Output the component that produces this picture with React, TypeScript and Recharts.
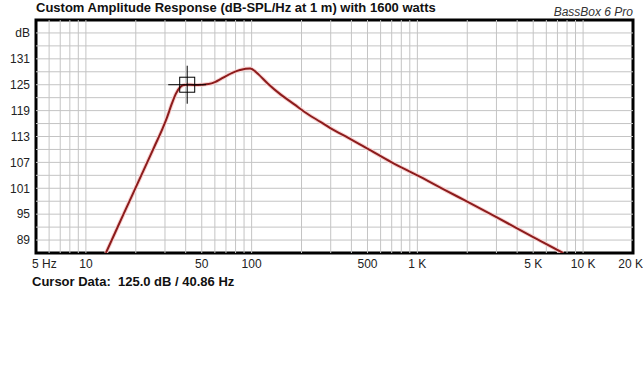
import React from "react";
import {
  LineChart,
  Line,
  XAxis,
  YAxis,
  ReferenceLine,
  ReferenceArea,
  ReferenceDot,
} from "recharts";

// response curve
const freqs = [
  13.2, 15, 17, 20, 23, 26, 29, 31, 33, 35, 37, 39, 40.86, 45, 50, 55, 60, 65,
  70, 77, 85, 92, 98, 105, 110, 125, 150, 180, 220, 260, 300, 350, 400, 500,
  700, 1000, 1500, 2000, 3000, 5000, 7570,
];
const spl = [
  86, 90.7, 95.3, 101.2, 106.3, 110.8, 114.8, 117.6, 120.6, 123.0, 124.4,
  124.95, 125.0, 124.95, 125.0, 125.15, 125.6, 126.3, 127.0, 127.8, 128.4,
  128.7, 128.75, 128.1, 127.4, 125.3, 122.7, 120.5, 118.1, 116.4, 114.9, 113.5,
  112.3, 110.2, 107.0, 104.0, 100.4, 97.9, 94.3, 89.7, 86,
];

const xTicks = [5, 10, 50, 100, 500, 1000, 5000, 10000, 20000];
const xTickLabels = ["5 Hz", "10", "50", "100", "500", "1 K", "5 K", "10 K", "20 K"];
const yTicks = [89, 95, 101, 107, 113, 119, 125, 131, 137];
const yTickLabels = ["89", "95", "101", "107", "113", "119", "125", "131", "dB"];

const xGrid = [
  6, 7, 8, 9, 10, 20, 30, 40, 50, 60, 70, 80, 90, 100, 200, 300, 400, 500, 600,
  700, 800, 900, 1000, 2000, 3000, 4000, 5000, 6000, 7000, 8000, 9000, 10000,
];
const yGrid = [89, 92, 95, 98, 101, 104, 107, 110, 113, 116, 119, 122, 125, 128, 131, 134, 137];

const cursorFreq = 40.86;
const cursorDb = 125.0;

const data = freqs.map((f, i) => ({ f, db: spl[i] }));

const FONT = "Arial, 'Liberation Sans', sans-serif";

const XTick = (props: any) => {
  const { x, y, payload } = props;
  const i = xTicks.indexOf(payload.value);
  let anchor: "start" | "middle" | "end" = "middle";
  let dx = 0;
  if (payload.value === 5) {
    anchor = "start";
    dx = -4;
  }
  if (payload.value === 20000) {
    anchor = "end";
    dx = 10;
  }
  return (
    <text x={x + dx} y={y} dy="0.71em" textAnchor={anchor} fontSize={12} fill="#222" fontFamily={FONT}>
      {xTickLabels[i]}
    </text>
  );
};

const YTick = (props: any) => {
  const { x, y, payload } = props;
  const i = yTicks.indexOf(payload.value);
  return (
    <text x={x} y={y} dy="0.36em" textAnchor="end" fontSize={12} fill="#222" fontFamily={FONT}>
      {yTickLabels[i]}
    </text>
  );
};

const Crosshair = (props: any) => {
  const { cx, cy } = props;
  return (
    <g stroke="#000" strokeWidth={1} fill="none">
      <line x1={cx - 19} y1={cy} x2={cx + 19} y2={cy} />
      <line x1={cx} y1={cy - 19} x2={cx} y2={cy + 19} />
      <rect x={cx - 7.5} y={cy - 7.5} width={15} height={15} />
    </g>
  );
};

export default function App() {
  return (
    <div
      style={{
        position: "absolute",
        left: 0,
        top: 0,
        width: 643,
        height: 384,
        background: "#fff",
        fontFamily: FONT,
      }}
    >
      <div
        style={{
          position: "absolute",
          left: 36,
          top: 0,
          fontSize: 13,
          fontWeight: "bold",
          color: "#111",
          whiteSpace: "nowrap",
        }}
      >
        Custom Amplitude Response (dB-SPL/Hz at 1 m) with 1600 watts
      </div>
      <div
        style={{
          position: "absolute",
          right: 10,
          top: 5,
          fontSize: 12,
          fontStyle: "italic",
          color: "#333",
          whiteSpace: "nowrap",
        }}
      >
        BassBox 6 Pro
      </div>

      <LineChart
        width={643}
        height={384}
        data={data}
        margin={{ top: 20, right: 10, left: 0, bottom: 111 }}
      >
        <XAxis
          dataKey="f"
          type="number"
          scale="log"
          domain={[5, 20000]}
          ticks={xTicks}
          allowDataOverflow
          axisLine={false}
          tickLine={false}
          tickSize={0}
          tickMargin={6}
          height={20}
          tick={<XTick />}
          interval={0}
        />
        <YAxis
          type="number"
          domain={[86, 140]}
          ticks={yTicks}
          allowDataOverflow
          axisLine={false}
          tickLine={false}
          tickSize={0}
          tickMargin={6}
          width={36}
          tick={<YTick />}
          interval={0}
        />

        {xGrid.map((v) => (
          <ReferenceLine key={`vx-${v}`} x={v} stroke="#c4c4c4" strokeWidth={1} />
        ))}
        {yGrid.map((v) => (
          <ReferenceLine key={`hy-${v}`} y={v} stroke="#c4c4c4" strokeWidth={1} />
        ))}

        <Line
          type="monotone"
          dataKey="db"
          stroke="#f8d2d2"
          strokeWidth={4}
          dot={false}
          activeDot={false}
          isAnimationActive={false}
        />
        <Line
          type="monotone"
          dataKey="db"
          stroke="#8c1c1c"
          strokeWidth={2}
          dot={false}
          activeDot={false}
          isAnimationActive={false}
        />

        <ReferenceArea
          x1={5}
          x2={20000}
          y1={86}
          y2={140}
          fill="none"
          stroke="#000"
          strokeWidth={3}
          ifOverflow="visible"
        />
        <ReferenceDot x={cursorFreq} y={cursorDb} shape={<Crosshair />} ifOverflow="visible" />
      </LineChart>

      <div
        style={{
          position: "absolute",
          left: 32,
          top: 274,
          fontSize: 13,
          fontWeight: "bold",
          color: "#111",
          whiteSpace: "pre",
        }}
      >
        {"Cursor Data:  125.0 dB / 40.86 Hz"}
      </div>
    </div>
  );
}
